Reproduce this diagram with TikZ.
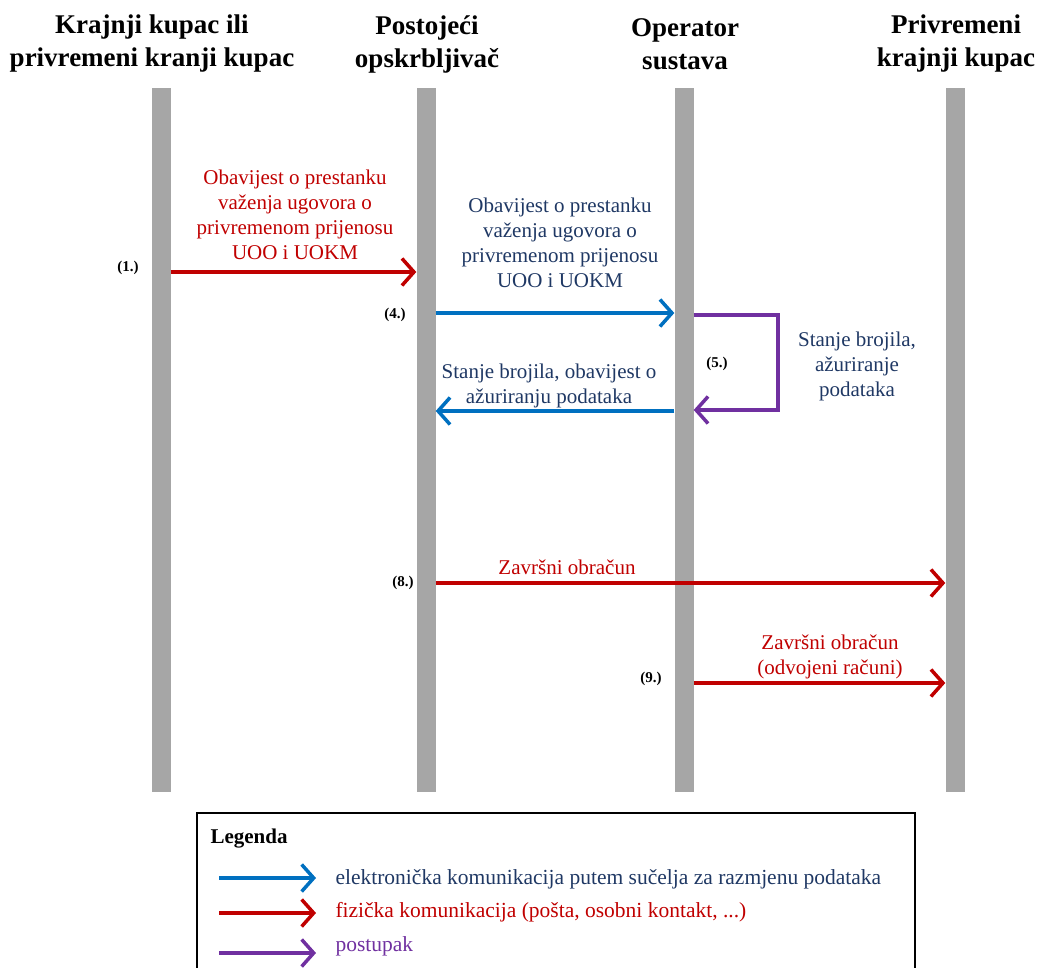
\documentclass[tikz,border=0pt]{standalone}
\usepackage{fontspec}
\setmainfont{Liberation Serif}
\usepackage{xcolor}
\usetikzlibrary{positioning,arrows.meta}
\definecolor{lanegray}{RGB}{166,166,166}
\definecolor{msgblue}{RGB}{0,112,192}
\definecolor{msgred}{RGB}{192,0,0}
\definecolor{msgpurple}{RGB}{112,48,160}
\definecolor{txtnavy}{RGB}{31,56,100}
\tikzset{
  lane/.style    = {rectangle, fill=lanegray, minimum width=19pt, minimum height=704pt, inner sep=0pt},
  header/.style  = {font=\fontsize{27}{33}\selectfont\bfseries, align=center},
  msg/.style     = {font=\fontsize{21}{25}\selectfont, align=center},
  steplbl/.style = {font=\fontsize{15}{17}\selectfont\bfseries},
  basicarrow/.style = {line width=3.5pt, -{Straight Barb[length=12pt,width=27pt,line width=3.5pt]}},
  bluearrow/.style   = {basicarrow, draw=msgblue},
  redarrow/.style    = {basicarrow, draw=msgred},
  purplearrow/.style = {basicarrow, draw=msgpurple}
}
\begin{document}
\begin{tikzpicture}[x=1pt, y=-1pt]
\useasboundingbox (0,0) rectangle (1038,968);

% the four lanes
\node[lane] (l1) at (161,440) {};
\node[lane] (l2) at (426,440) {};
\node[lane] (l3) at (684,440) {};
\node[lane] (l4) at (955,440) {};

% headers
\node[header] (h1) at (152,44) {Krajnji kupac ili\\privremeni kranji kupac};
\node[header] (h2) at (427,44) {Postojeći\\opskrbljivač};
\node[header] (h3) at (685,44) {Operator\\sustava};
\node[header] (h4) at (956,44) {Privremeni\\krajnji kupac};

% step (1.)
\coordinate (y1) at (0,272);
\draw[redarrow] (l1.east |- y1) -- (l2.west |- y1);
\node[msg, text=msgred] (m1) at (295,215) {Obavijest o prestanku\\važenja ugovora o\\privremenom prijenosu\\UOO i UOKM};
\node[steplbl] (s1) at (128,268) {(1.)};

% step (4.)
\coordinate (y4) at (0,313);
\draw[bluearrow] (l2.east |- y4) -- (l3.west |- y4);
\node[msg, text=txtnavy] (m4) at (560,243) {Obavijest o prestanku\\važenja ugovora o\\privremenom prijenosu\\UOO i UOKM};
\node[steplbl] (s4) at (395,315) {(4.)};

% step (5.), the loop on the operator lane
\coordinate (p1) at (778,315);
\coordinate (p2) at (778,410);
\draw[purplearrow] (l3.east |- p1) -- (p1) -- (p2) -- (l3.east |- p2);
\node[msg, text=txtnavy] (m5) at (857,366) {Stanje brojila,\\ažuriranje\\podataka};
\node[steplbl] (s5) at (717,364) {(5.)};

% answer back to the supplier
\coordinate (y5) at (0,411);
\draw[bluearrow] (l3.west |- y5) -- (l2.east |- y5);
\node[msg, text=txtnavy] (m6) at (549,386) {Stanje brojila, obavijest o\\ažuriranju podataka};

% step (8.)
\coordinate (y8) at (0,583);
\draw[redarrow] (l2.east |- y8) -- (l4.west |- y8);
\node[msg, text=msgred] (m8) at (567,567) {Završni obračun};
\node[steplbl] (s8) at (403,583) {(8.)};

% step (9.)
\coordinate (y9) at (0,683);
\draw[redarrow] (l3.east |- y9) -- (l4.west |- y9);
\node[msg, text=msgred] (m9) at (830,657) {Završni obračun\\(odvojeni računi)};
\node[steplbl] (s9) at (651,679) {(9.)};

% legend
\node[draw, line width=1.5pt, minimum width=718pt, minimum height=170pt, anchor=north west, inner sep=0pt] (legend) at (196,812) {};
\node[font=\fontsize{21}{24}\selectfont\bfseries, anchor=west] (lgt) at (207,839) {Legenda};
\node[msg, anchor=west, text=txtnavy, font=\fontsize{21.5}{25}\selectfont] (lg1) at (332,879) {elektronička komunikacija putem sučelja za razmjenu podataka};
\node[msg, anchor=west, text=msgred, font=\fontsize{21.5}{25}\selectfont] (lg2) at (332,912) {fizička komunikacija (pošta, osobni kontakt, ...)};
\node[msg, anchor=west, text=msgpurple, font=\fontsize{21.5}{25}\selectfont] (lg3) at (332,946) {postupak};
\draw[bluearrow] ([xshift=-113pt]lg1.west |- 0,878) -- ([xshift=-16pt]lg1.west |- 0,878);
\draw[redarrow] ([xshift=-113pt]lg2.west |- 0,913) -- ([xshift=-16pt]lg2.west |- 0,913);
\draw[purplearrow] ([xshift=-113pt]lg3.west |- 0,953) -- ([xshift=-16pt]lg3.west |- 0,953);
\end{tikzpicture}
\end{document}
